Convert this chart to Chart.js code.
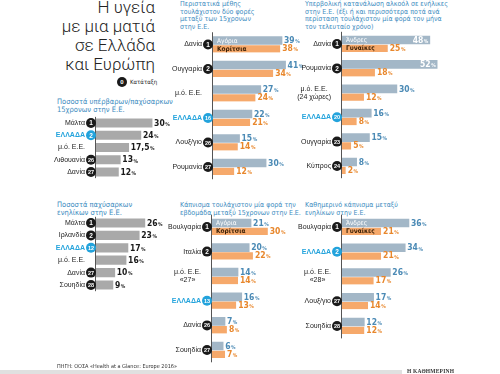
<!DOCTYPE html>
<html>
<head>
<meta charset="utf-8">
<script src="https://cdn.jsdelivr.net/npm/chart.js@4.4.0/dist/chart.umd.min.js"></script>
<style>
  body { margin: 0; width: 500px; height: 374px; background: #fff; position: relative; overflow: hidden;
         font-family: 'Liberation Sans Narrow', 'DejaVu Sans Condensed', sans-serif; }
  canvas { position: absolute; }
  .head { position: absolute; right: 345px; top: -2px; text-align: right; font-family: Roboto, sans-serif;
          font-weight: 300; font-size: 17px; line-height: 19px; color: #222; white-space: nowrap; }
  .sub { position: absolute; color: #3d8cc0; font-size: 7px; line-height: 8px; white-space: nowrap; }
  .key { position: absolute; left: 117px; top: 77px; width: 10px; height: 10px; border-radius: 50%; background: #1a1a1a;
         color: #fff; font: bold 6px 'Liberation Sans', sans-serif; text-align: center; line-height: 10px; }
  .keytxt { position: absolute; left: 130px; top: 78px; font-size: 6px; color: #222; }
  .band { position: absolute; left: 0; top: 370px; width: 402px; height: 4px; background: #e0e0e0; }
  .src { position: absolute; left: 57px; top: 363px; font-size: 5.5px; color: #333; }
  .brand { position: absolute; left: 407px; top: 368px; font: bold 5.5px 'Liberation Serif', serif; color: #333; letter-spacing: 0.2px; }
</style>
</head>
<body>
<div class="head">Η υγεία<br>με μια ματιά<br>σε Ελλάδα<br>και Ευρώπη</div>
<div class="key">0</div><div class="keytxt">Κατάταξη</div>

<div class="sub" style="left:57px;top:98px;font-size:7.5px">Ποσοστά υπέρβαρων/παχύσαρκων<br>15χρονων στην Ε.Ε.</div>
<div class="sub" style="left:57px;top:201px;font-size:7.5px">Ποσοστά παχύσαρκων<br>ενηλίκων στην Ε.Ε.</div>
<div class="sub" style="left:180px;top:1px;line-height:7.5px">Περιστατικά μέθης<br>τουλάχιστον δύο φορές<br>μεταξύ των 15χρονων<br>στην Ε.Ε.</div>
<div class="sub" style="left:305px;top:1px;line-height:7.5px">Υπερβολική κατανάλωση αλκοόλ σε ενήλικες<br>στην Ε.Ε. (έξι ή και περισσότερα ποτά ανά<br>περίσταση τουλάχιστον μία φορά τον μήνα<br>τον τελευταίο χρόνο)</div>
<div class="sub" style="left:180px;top:201px">Κάπνισμα τουλάχιστον μία φορά την<br>εβδομάδα μεταξύ 15χρονων στην Ε.Ε.</div>
<div class="sub" style="left:305px;top:201px">Καθημερινό κάπνισμα μεταξύ<br>ενηλίκων στην Ε.Ε.</div>

<canvas id="c1"></canvas>
<canvas id="c2"></canvas>
<canvas id="c3"></canvas>
<canvas id="c4"></canvas>
<canvas id="c5"></canvas>
<canvas id="c6"></canvas>

<div class="band"></div>
<div class="src">ΠΗΓΗ: ΟΟΣΑ «Health at a Glance: Europe 2016»</div>
<div class="brand">Η ΚΑΘΗΜΕΡΙΝΗ</div>

<script>
// υπέρβαροι / παχύσαρκοι 15χρονοι
const overweightCountries = ['Μάλτα', 'ΕΛΛΑΔΑ', 'μ.ό. Ε.Ε.', 'Λιθουανία', 'Δανία'];
const overweightRanks = [1, 2, null, 26, 27];
const overweightValues = [30, 24, 17.5, 13, 12];

// παχύσαρκοι ενήλικες
const obeseCountries = ['Μάλτα', 'Ιρλανδία', 'ΕΛΛΑΔΑ', 'μ.ό. Ε.Ε.', 'Δανία', 'Σουηδία'];
const obeseRanks = [1, 2, 12, null, 27, 28];
const obeseValues = [26, 23, 17, 16, 10, 9];

// μέθη 15χρονων
const drunkCountries = ['Δανία', 'Ουγγαρία', 'μ.ό. Ε.Ε.', 'ΕΛΛΑΔΑ', 'Λουξ/γιο', 'Ρουμανία'];
const drunkRanks = [1, 2, null, 16, 26, 27];
const drunkBoys = [39, 41, 27, 22, 15, 30];
const drunkGirls = [38, 34, 24, 21, 14, 12];

// υπερβολική κατανάλωση αλκοόλ ενηλίκων
const alcoholCountries = ['Δανία', 'Ρουμανία', ['μ.ό. Ε.Ε.', '(24 χώρες)'], 'ΕΛΛΑΔΑ', 'Ουγγαρία', 'Κύπρος'];
const alcoholRanks = [1, 2, null, 20, 23, 24];
const alcoholMen = [48, 52, 30, 16, 15, 8];
const alcoholWomen = [25, 18, 12, 8, 5, 2];

// κάπνισμα 15χρονων
const teenSmokeCountries = ['Βουλγαρία', 'Ιταλία', ['μ.ό. Ε.Ε.', '«27»'], 'ΕΛΛΑΔΑ', 'Δανία', 'Σουηδία'];
const teenSmokeRanks = [1, 2, null, 13, 26, 27];
const teenSmokeBoys = [21, 20, 14, 16, 7, 6];
const teenSmokeGirls = [30, 22, 14, 13, 8, 7];

// καθημερινό κάπνισμα ενηλίκων
const dailySmokeCountries = ['Βουλγαρία', 'ΕΛΛΑΔΑ', ['μ.ό. Ε.Ε.', '«28»'], 'Λουξ/γιο', 'Σουηδία'];
const dailySmokeRanks = [1, 2, null, 27, 28];
const dailySmokeMen = [36, 34, 26, 17, 12];
const dailySmokeWomen = [21, 21, 17, 14, 12];

const GRAY = '#a9a9a9', STEEL = '#a3b7c7', ORANGE = '#f6a96b';
const STEEL_TXT = '#4b8ab5', ORANGE_TXT = '#e8872c', CYAN = '#23a3dc';
const FONT = "'Liberation Sans Narrow', 'DejaVu Sans Condensed', sans-serif";
const LABEL_FONT = "'Liberation Sans', Arial, sans-serif";

// draws the axis line, country names, rank circles and value labels
const rowLabels = {
  id: 'rowLabels',
  afterDatasetsDraw(chart) {
    const s = chart.options.plugins.rowLabels;
    const ctx = chart.ctx;
    const area = chart.chartArea;
    const yScale = chart.scales.y;
    ctx.save();
    ctx.strokeStyle = '#555';
    ctx.lineWidth = 1;
    ctx.beginPath();
    ctx.moveTo(area.left - 0.5, area.top);
    ctx.lineTo(area.left - 0.5, area.bottom);
    ctx.stroke();
    ctx.textBaseline = 'middle';

    chart.data.labels.forEach((lab, i) => {
      const y = yScale.getPixelForValue(i);
      const lines = Array.isArray(lab) ? lab : [lab];
      const greece = lab === 'ΕΛΛΑΔΑ';
      ctx.font = (greece ? 'bold ' : '') + '7px ' + LABEL_FONT;
      ctx.fillStyle = greece ? CYAN : '#222';
      const w = Math.max(...lines.map(l => ctx.measureText(l).width));
      const right = area.left - 11;
      ctx.textAlign = 'center';
      lines.forEach((l, k) => ctx.fillText(l, right - w / 2, y + (k - (lines.length - 1) / 2) * 8));

      const rank = s.ranks[i];
      if (rank != null) {
        ctx.beginPath();
        ctx.arc(area.left - 5, y, 5, 0, Math.PI * 2);
        ctx.fillStyle = greece ? CYAN : '#1a1a1a';
        ctx.fill();
        ctx.fillStyle = '#fff';
        ctx.font = 'bold ' + (rank > 9 ? 5.5 : 6.5) + 'px ' + LABEL_FONT;
        ctx.fillText(String(rank), area.left - 5, y + 0.5);
      }

      chart.data.datasets.forEach((ds, d) => {
        const bar = chart.getDatasetMeta(d).data[i];
        const v = ds.data[i];
        const num = String(v).replace('.', ',');
        ctx.font = 'bold 8.5px ' + FONT;
        const nw = ctx.measureText(num).width;
        ctx.font = 'bold 5px ' + FONT;
        const pw = ctx.measureText('%').width;
        let x = bar.x + 2;
        let col = s.textColors[d];
        if (s.insideFrom != null && v >= s.insideFrom) {
          x = bar.x - 2 - nw - pw;
          col = '#fff';
        }
        ctx.textAlign = 'left';
        ctx.fillStyle = col;
        ctx.font = 'bold 8.5px ' + FONT;
        ctx.fillText(num, x, bar.y + 0.5);
        ctx.font = 'bold 5px ' + FONT;
        ctx.fillText('%', x + nw + 0.5, bar.y + 1.5);

        // series name inside the first group
        if (i === 0 && s.names) {
          ctx.font = (d === 1 ? 'bold ' : '') + '6.5px ' + FONT;
          ctx.fillStyle = d === 0 ? '#fff' : '#3a1f05';
          ctx.fillText(s.names[d], bar.base + 4, bar.y + 0.5);
        }
      });
    });
    ctx.restore();
  }
};

function makeChart(id, spec) {
  const n = spec.labels.length;
  const areaTop = spec.first - spec.step / 2;
  const areaH = spec.step * n;
  const top = Math.floor(areaTop) - 4;
  const height = Math.ceil(areaH) + 12;
  const padTop = areaTop - top;
  const padLeft = spec.axis - spec.left;
  const canvas = document.getElementById(id);
  canvas.width = spec.width;
  canvas.height = height;
  canvas.style.left = spec.left + 'px';
  canvas.style.top = top + 'px';

  const two = spec.series.length === 2;
  const datasets = spec.series.map((data, d) => ({
    data: data,
    backgroundColor: spec.colors[d],
    borderColor: '#fff',
    borderWidth: two && d === 1 ? { top: 1, right: 0, bottom: 0, left: 0 } : 0,
    borderSkipped: 'start',
    barThickness: two ? 8 : 8.5
  }));

  return new Chart(canvas, {
    type: 'bar',
    data: { labels: spec.labels, datasets: datasets },
    options: {
      indexAxis: 'y',
      responsive: false,
      animation: false,
      layout: { padding: { left: padLeft, right: 0, top: padTop, bottom: height - padTop - areaH } },
      scales: {
        x: { display: false, min: 0, max: (spec.width - padLeft) / spec.ppp },
        y: { display: false }
      },
      plugins: {
        legend: { display: false },
        tooltip: { enabled: false },
        rowLabels: { ranks: spec.ranks, textColors: spec.textColors, names: spec.names, insideFrom: spec.insideFrom }
      }
    },
    plugins: [rowLabels]
  });
}

makeChart('c1', { left: 0, width: 170, axis: 96, ppp: 1.87, first: 123, step: 12.25,
  labels: overweightCountries, ranks: overweightRanks, series: [overweightValues],
  colors: [GRAY], textColors: ['#1a1a1a'] });

makeChart('c2', { left: 0, width: 170, axis: 96, ppp: 1.88, first: 223, step: 12.4,
  labels: obeseCountries, ranks: obeseRanks, series: [obeseValues],
  colors: [GRAY], textColors: ['#1a1a1a'] });

makeChart('c3', { left: 160, width: 175, axis: 213, ppp: 1.77, first: 44.5, step: 24.5,
  labels: drunkCountries, ranks: drunkRanks, series: [drunkBoys, drunkGirls],
  colors: [STEEL, ORANGE], textColors: [STEEL_TXT, ORANGE_TXT], names: ['Αγόρια', 'Κορίτσια'] });

makeChart('c4', { left: 290, width: 210, axis: 342, ppp: 1.83, first: 44, step: 24.4,
  labels: alcoholCountries, ranks: alcoholRanks, series: [alcoholMen, alcoholWomen],
  colors: [STEEL, ORANGE], textColors: [STEEL_TXT, ORANGE_TXT], names: ['Άνδρες', 'Γυναίκες'], insideFrom: 45 });

makeChart('c5', { left: 160, width: 175, axis: 212, ppp: 1.86, first: 227, step: 24.6,
  labels: teenSmokeCountries, ranks: teenSmokeRanks, series: [teenSmokeBoys, teenSmokeGirls],
  colors: [STEEL, ORANGE], textColors: [STEEL_TXT, ORANGE_TXT], names: ['Αγόρια', 'Κορίτσια'] });

makeChart('c6', { left: 290, width: 210, axis: 342, ppp: 1.86, first: 227, step: 24.75,
  labels: dailySmokeCountries, ranks: dailySmokeRanks, series: [dailySmokeMen, dailySmokeWomen],
  colors: [STEEL, ORANGE], textColors: [STEEL_TXT, ORANGE_TXT], names: ['Άνδρες', 'Γυναίκες'] });
</script>
</body>
</html>
